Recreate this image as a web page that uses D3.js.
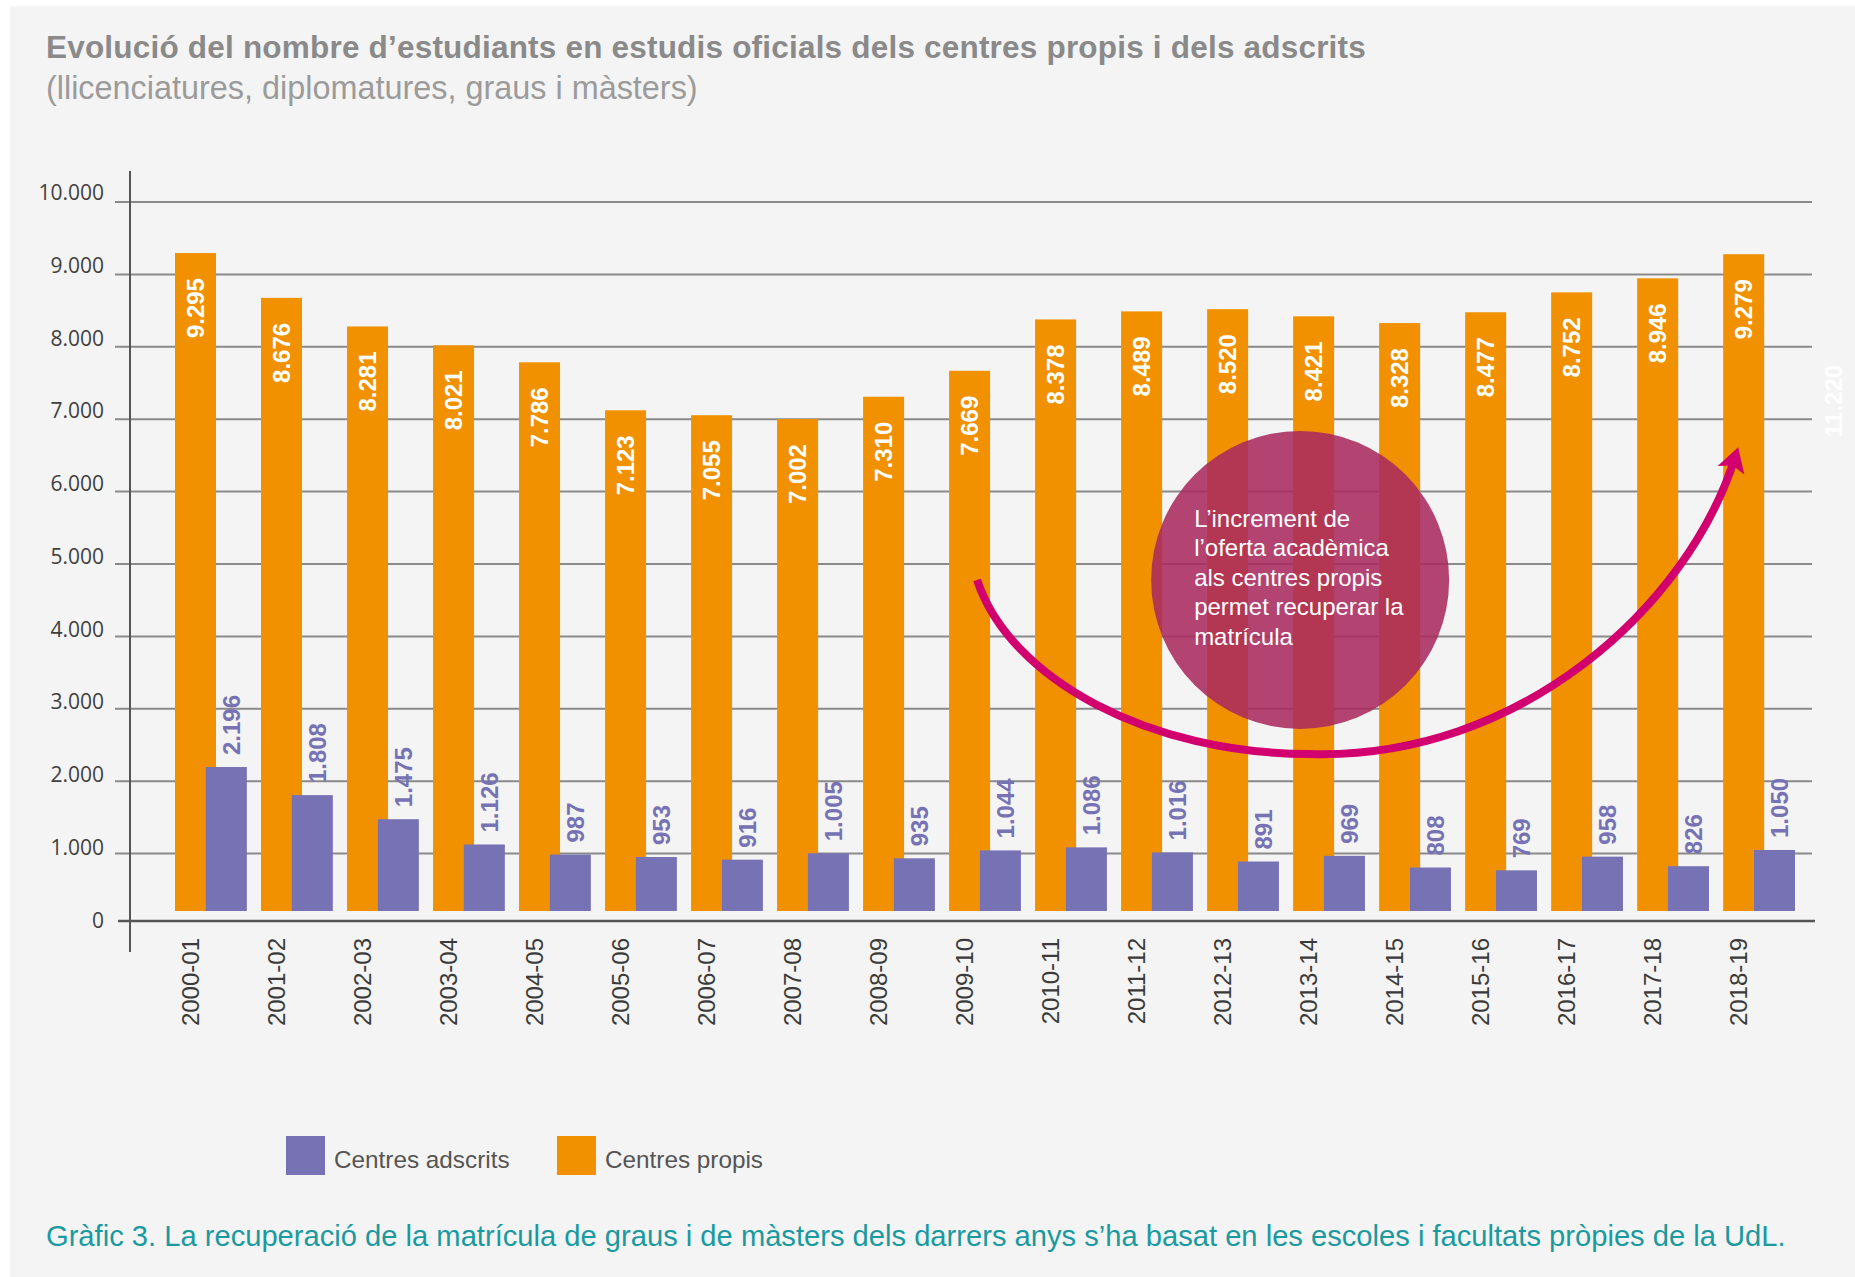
<!DOCTYPE html>
<html>
<head>
<meta charset="utf-8">
<script src="https://cdn.jsdelivr.net/npm/d3@7"></script>
<style>
  html, body { margin: 0; padding: 0; background: #fff; }
  svg { display: block; }
</style>
</head>
<body>
<svg id="chart" width="1855" height="1277"></svg>
<script>
const categories = ["2000-01", "2001-02", "2002-03", "2003-04", "2004-05", "2005-06", "2006-07", "2007-08", "2008-09", "2009-10",
  "2010-11", "2011-12", "2012-13", "2013-14", "2014-15", "2015-16", "2016-17", "2017-18", "2018-19"]
const propis = [9295, 8676, 8281, 8021, 7786, 7123, 7055, 7002, 7310, 7669, 8378, 8489, 8520, 8421, 8328, 8477, 8752, 8946, 9279]
const adscrits = [2196, 1808, 1475, 1126, 987, 953, 916, 1005, 935, 1044, 1086, 1016, 891, 969, 808, 769, 958, 826, 1050]
const yTicks = [0, 1000, 2000, 3000, 4000, 5000, 6000, 7000, 8000, 9000, 10000]
const ghostValue = 11220
const noteLines = ["L\u2019increment de", "l\u2019oferta acadèmica", "als centres propis", "permet recuperar la", "matrícula"]
const title = "Evolució del nombre d\u2019estudiants en estudis oficials dels centres propis i dels adscrits"
const subtitle = "(llicenciatures, diplomatures, graus i màsters)"
const caption = "Gràfic 3. La recuperació de la matrícula de graus i de màsters dels darrers anys s\u2019ha basat en les escoles i facultats pròpies de la UdL."
const legendItems = [{ name: "Centres adscrits", color: "#7672b4" }, { name: "Centres propis", color: "#f29100" }]

const orange = "#f29100"
const purple = "#7672b4"
const magenta = "#d1006e"
const font = "'Liberation Sans', Arial, sans-serif"

const fmt = d3.formatLocale({ decimal: ",", thousands: ".", grouping: [3] }).format(",")

const svg = d3.select("#chart")

// panel
svg.append("rect")
  .attr("x", 10).attr("y", 6)
  .attr("width", 1845).attr("height", 1271)
  .attr("fill", "#f4f4f4")

// titles
svg.append("text")
  .attr("x", 46).attr("y", 58)
  .attr("font-family", font).attr("font-size", 31.5).attr("font-weight", "bold")
  .attr("letter-spacing", 0.2)
  .attr("fill", "#8a8a8a")
  .text(title)
svg.append("text")
  .attr("x", 46).attr("y", 99)
  .attr("font-family", font).attr("font-size", 32.4)
  .attr("fill", "#9b9b9b")
  .text(subtitle)

// scales
const x = d3.scaleBand()
  .domain(categories)
  .range([175, 1795])
  .paddingInner(0.165)
  .paddingOuter(0)
const barW = 41
const purpleX = x.bandwidth() - barW

const y = d3.scaleLinear().domain([0, 10000]).range([926, 202])
const yLabel = d3.scaleLinear().domain([0, 10000]).range([920, 192.5])
const base = y(0) - 15

// gridlines
svg.append("g")
  .selectAll("line")
  .data(yTicks.filter(d => d > 0))
  .join("line")
  .attr("x1", 115).attr("x2", 1812)
  .attr("y1", d => y(d)).attr("y2", d => y(d))
  .attr("stroke", "#8a8a8a").attr("stroke-width", 2)

// y labels
svg.append("g")
  .selectAll("text")
  .data(yTicks)
  .join("text")
  .attr("x", 104)
  .attr("y", d => yLabel(d))
  .attr("dy", "0.36em")
  .attr("text-anchor", "end")
  .attr("font-family", "'Open Sans', 'Noto Sans', sans-serif")
  .attr("font-size", 21)
  .attr("fill", "#404040")
  .text(d => fmt(d))

// axes lines
svg.append("line")
  .attr("x1", 118).attr("x2", 1815)
  .attr("y1", y(0) - 5).attr("y2", y(0) - 5)
  .attr("stroke", "#555").attr("stroke-width", 2.5)
svg.append("line")
  .attr("x1", 130).attr("x2", 130)
  .attr("y1", 171).attr("y2", 952)
  .attr("stroke", "#555").attr("stroke-width", 2)

// bars
const groups = svg.append("g")
  .selectAll("g")
  .data(categories.map((c, i) => ({ cat: c, propis: propis[i], adscrits: adscrits[i] })))
  .join("g")
  .attr("transform", d => `translate(${x(d.cat)},0)`)

groups.append("rect")
  .attr("x", 0)
  .attr("width", barW)
  .attr("y", d => y(d.propis))
  .attr("height", d => base - y(d.propis))
  .attr("fill", orange)

groups.append("rect")
  .attr("x", purpleX)
  .attr("width", barW)
  .attr("y", d => y(d.adscrits))
  .attr("height", d => base - y(d.adscrits))
  .attr("fill", purple)

groups.append("text")
  .attr("transform", d => `translate(${barW / 2},${y(d.propis) + 25}) rotate(-90)`)
  .attr("dy", "0.36em")
  .attr("text-anchor", "end")
  .attr("font-family", font).attr("font-size", 24).attr("font-weight", "bold")
  .attr("fill", "#fff")
  .text(d => fmt(d.propis))

groups.append("text")
  .attr("transform", d => `translate(${purpleX + barW / 2 + 5},${y(d.adscrits) - 12}) rotate(-90)`)
  .attr("dy", "0.36em")
  .attr("text-anchor", "start")
  .attr("font-family", font).attr("font-size", 24).attr("font-weight", "bold")
  .attr("fill", purple)
  .text(d => fmt(d.adscrits))

// x labels
groups.append("text")
  .attr("transform", `translate(${barW / 2 - 5},938) rotate(-90)`)
  .attr("dy", "0.36em")
  .attr("text-anchor", "end")
  .attr("font-family", font).attr("font-size", 24)
  .attr("fill", "#3a3a3a")
  .text(d => d.cat)

// faint leftover label at the right edge
svg.append("text")
  .attr("transform", `translate(1833,${yLabel(6640)}) rotate(-90)`)
  .attr("dy", "0.36em")
  .attr("font-family", font).attr("font-size", 24).attr("font-weight", "bold")
  .attr("fill", "#ffffff")
  .text(fmt(ghostValue))

// annotation bubble
const cx = x("2013-14") + 7
const cy = y(4780)
svg.append("circle")
  .attr("cx", cx).attr("cy", cy).attr("r", 149)
  .attr("fill", "#aa2a5e").attr("opacity", 0.88)

svg.append("g")
  .selectAll("text")
  .data(noteLines)
  .join("text")
  .attr("x", cx - 106)
  .attr("y", (d, i) => cy - 53 + i * 29.5)
  .attr("font-family", font).attr("font-size", 24)
  .attr("fill", "#fff")
  .text(d => d)

// curved arrow
svg.append("defs").append("marker")
  .attr("id", "head")
  .attr("markerUnits", "userSpaceOnUse")
  .attr("viewBox", "-20 -16 32 32")
  .attr("markerWidth", 32).attr("markerHeight", 32)
  .attr("refX", 0).attr("refY", 0)
  .attr("orient", "auto")
  .append("path")
  .attr("d", "M10,0 L-14,-14 L-9,0 L-14,14 Z")
  .attr("fill", magenta)

const p0 = [x("2009-10") + 28, y(4780)]
const pMid = [x("2013-14") + 17, y(2376)]
const pEnd = [x("2018-19") + 12, y(6480)]
const arrow = d3.path()
arrow.moveTo(p0[0], p0[1])
arrow.bezierCurveTo(p0[0] + 33, p0[1] + 100, pMid[0] - 160, pMid[1], pMid[0], pMid[1])
arrow.bezierCurveTo(pMid[0] + 210, pMid[1] + 6, pEnd[0] - 47, pEnd[1] + 150, pEnd[0], pEnd[1])
svg.append("path")
  .attr("d", arrow.toString())
  .attr("fill", "none")
  .attr("stroke", magenta)
  .attr("stroke-width", 8)
  .attr("marker-end", "url(#head)")

// legend
const legend = svg.append("g")
  .selectAll("g")
  .data(legendItems)
  .join("g")
  .attr("transform", (d, i) => `translate(${286 + i * 271},1136)`)
legend.append("rect")
  .attr("width", 39).attr("height", 39)
  .attr("fill", d => d.color)
legend.append("text")
  .attr("x", 48).attr("y", 32)
  .attr("font-family", font).attr("font-size", 24.3)
  .attr("fill", "#555")
  .text(d => d.name)

// caption
svg.append("text")
  .attr("x", 46).attr("y", 1246)
  .attr("font-family", font).attr("font-size", 29.15)
  .attr("fill", "#1a9aa0")
  .text(caption)
</script>
</body>
</html>
